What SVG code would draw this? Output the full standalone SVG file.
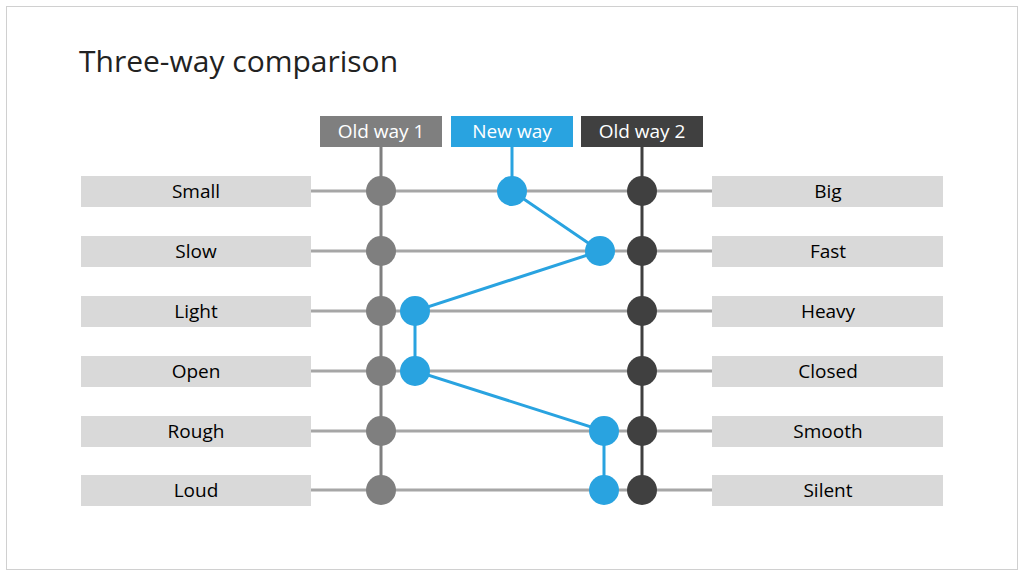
<svg xmlns="http://www.w3.org/2000/svg" width="1024" height="576" viewBox="0 0 1024 576">
<style>
.lbl{fill:#d9d9d9}
.t{font-family:"Open Sans","Liberation Sans",sans-serif;font-size:19px;fill:#000;text-anchor:middle}
.h{font-family:"Open Sans","Liberation Sans",sans-serif;font-size:19px;fill:#fff;text-anchor:middle}
.row{stroke:#a6a6a6;stroke-width:3}
.c1{fill:#7f7f7f}.c2{fill:#404040}.cb{fill:#29a3e0}
</style>
<rect x="0" y="0" width="1024" height="576" fill="#fff"/>
<rect x="6.5" y="6.5" width="1011" height="563" fill="none" stroke="#d0d0d0"/>
<text x="79" y="72" font-family="'Open Sans','Liberation Sans',sans-serif" font-size="30" fill="#222">Three-way comparison</text>
<g id="connectors">
<g class="row">
<line x1="311" y1="191" x2="712" y2="191"/><line x1="311" y1="251" x2="712" y2="251"/>
<line x1="311" y1="311" x2="712" y2="311"/><line x1="311" y1="371" x2="712" y2="371"/>
<line x1="311" y1="431" x2="712" y2="431"/><line x1="311" y1="490" x2="712" y2="490"/>
</g>
<line x1="381" y1="147" x2="381" y2="490" stroke="#7f7f7f" stroke-width="3"/>
<line x1="642" y1="147" x2="642" y2="490" stroke="#404040" stroke-width="3"/>
<polyline points="512,147 512,191 600,251 415,311 415,371 604,431 604,490" fill="none" stroke="#29a3e0" stroke-width="3"/>
</g>
<g id="header-old1"><rect x="320" y="116" width="122" height="31" fill="#7f7f7f"/><text class="h" x="381" y="138">Old way 1</text></g>
<g id="header-new"><rect x="451" y="116" width="122" height="31" fill="#29a3e0"/><text class="h" x="512" y="138">New way</text></g>
<g id="header-old2"><rect x="581" y="116" width="122" height="31" fill="#404040"/><text class="h" x="642" y="138">Old way 2</text></g>
<g id="left-labels">
<g id="l-small"><rect class="lbl" x="81" y="176" width="230" height="31"/><text class="t" x="196" y="198">Small</text></g>
<g id="l-slow"><rect class="lbl" x="81" y="236" width="230" height="31"/><text class="t" x="196" y="258">Slow</text></g>
<g id="l-light"><rect class="lbl" x="81" y="296" width="230" height="31"/><text class="t" x="196" y="318">Light</text></g>
<g id="l-open"><rect class="lbl" x="81" y="356" width="230" height="31"/><text class="t" x="196" y="378">Open</text></g>
<g id="l-rough"><rect class="lbl" x="81" y="416" width="230" height="31"/><text class="t" x="196" y="438">Rough</text></g>
<g id="l-loud"><rect class="lbl" x="81" y="475" width="230" height="31"/><text class="t" x="196" y="497">Loud</text></g>
</g>
<g id="right-labels">
<g id="r-big"><rect class="lbl" x="712" y="176" width="231" height="31"/><text class="t" x="828" y="198">Big</text></g>
<g id="r-fast"><rect class="lbl" x="712" y="236" width="231" height="31"/><text class="t" x="828" y="258">Fast</text></g>
<g id="r-heavy"><rect class="lbl" x="712" y="296" width="231" height="31"/><text class="t" x="828" y="318">Heavy</text></g>
<g id="r-closed"><rect class="lbl" x="712" y="356" width="231" height="31"/><text class="t" x="828" y="378">Closed</text></g>
<g id="r-smooth"><rect class="lbl" x="712" y="416" width="231" height="31"/><text class="t" x="828" y="438">Smooth</text></g>
<g id="r-silent"><rect class="lbl" x="712" y="475" width="231" height="31"/><text class="t" x="828" y="497">Silent</text></g>
</g>
<g id="dots-old1" class="c1">
<circle cx="381" cy="191" r="15"/><circle cx="381" cy="251" r="15"/><circle cx="381" cy="311" r="15"/>
<circle cx="381" cy="371" r="15"/><circle cx="381" cy="431" r="15"/><circle cx="381" cy="490" r="15"/>
</g>
<g id="dots-old2" class="c2">
<circle cx="642" cy="191" r="15"/><circle cx="642" cy="251" r="15"/><circle cx="642" cy="311" r="15"/>
<circle cx="642" cy="371" r="15"/><circle cx="642" cy="431" r="15"/><circle cx="642" cy="490" r="15"/>
</g>
<g id="dots-new" class="cb">
<circle cx="512" cy="191" r="15"/><circle cx="600" cy="251" r="15"/><circle cx="415" cy="311" r="15"/>
<circle cx="415" cy="371" r="15"/><circle cx="604" cy="431" r="15"/><circle cx="604" cy="490" r="15"/>
</g>
</svg>
